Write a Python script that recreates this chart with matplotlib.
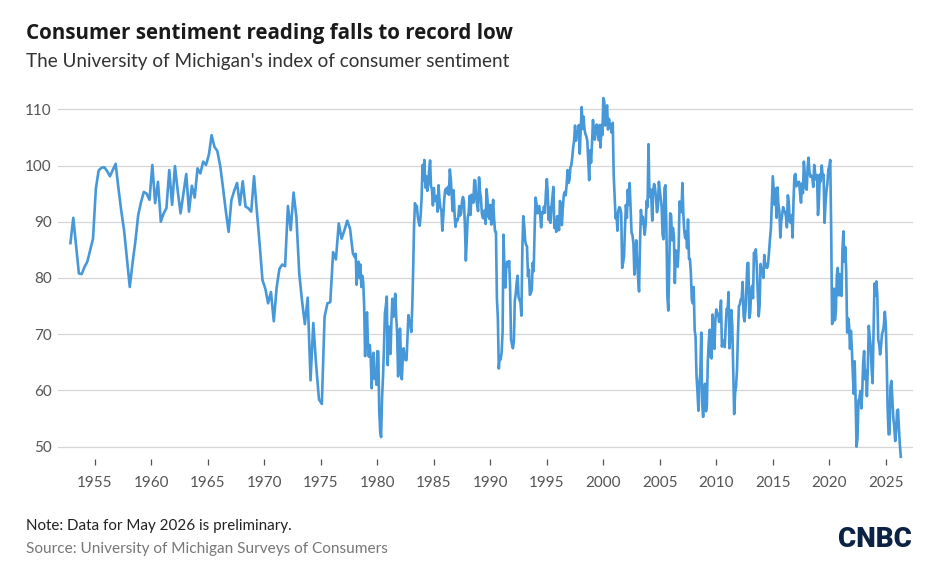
import matplotlib
matplotlib.use("Agg")
import matplotlib.pyplot as plt
import matplotlib.dates as mdates
import pandas as pd

plt.rcParams['font.family'] = ['Lato', 'DejaVu Sans']

# quarterly readings before 1978
early_dates = [
    "1952-11",
    "1953-02", "1953-08", "1953-11",
    "1954-02", "1954-05", "1954-11",
    "1955-02", "1955-05", "1955-08", "1955-11",
    "1956-02", "1956-05", "1956-08", "1956-11",
    "1957-02", "1957-05", "1957-08", "1957-11",
    "1958-02", "1958-05", "1958-08", "1958-11",
    "1959-02", "1959-05", "1959-08", "1959-11",
    "1960-02", "1960-05", "1960-08", "1960-11",
    "1961-02", "1961-05", "1961-08", "1961-11",
    "1962-02", "1962-05", "1962-08", "1962-11",
    "1963-02", "1963-05", "1963-08", "1963-11",
    "1964-02", "1964-05", "1964-08", "1964-11",
    "1965-02", "1965-05", "1965-08", "1965-11",
    "1966-02", "1966-05", "1966-08", "1966-11",
    "1967-02", "1967-05", "1967-08", "1967-11",
    "1968-02", "1968-05", "1968-08", "1968-11",
    "1969-02", "1969-05", "1969-08", "1969-11",
    "1970-02", "1970-05", "1970-08", "1970-11",
    "1971-02", "1971-05", "1971-08", "1971-11",
    "1972-02", "1972-05", "1972-08", "1972-11",
    "1973-02", "1973-05", "1973-08", "1973-11",
    "1974-02", "1974-05", "1974-08", "1974-11",
    "1975-02", "1975-05", "1975-08", "1975-11",
    "1976-02", "1976-05", "1976-08", "1976-11",
    "1977-02", "1977-05", "1977-08", "1977-11",
]
early_values = [
    86.2,
    90.7, 80.8, 80.7,
    82.0, 82.9, 87.0,
    95.9, 99.1, 99.6, 99.7,
    99.0, 98.1, 99.2, 100.3,
    95.9, 92.0, 88.5, 83.5,
    78.4, 82.6, 86.5, 91.2,
    93.5, 95.3, 95.0, 93.9,
    100.1, 93.3, 97.1, 90.0,
    91.5, 92.4, 99.2, 93.0,
    99.9, 95.5, 91.5, 95.0,
    98.5, 91.8, 96.4, 94.3,
    99.5, 98.6, 100.7, 100.1,
    101.9, 105.4, 103.3, 102.6,
    100.0, 96.2, 92.0, 88.2,
    93.9, 95.5, 96.9, 93.0,
    97.2, 92.7, 92.4, 91.8,
    98.1, 92.0, 86.0, 79.6,
    78.1, 75.5, 77.5, 72.3,
    78.3, 81.6, 82.4, 82.1,
    92.8, 88.5, 95.2, 90.8,
    80.8, 76.0, 71.8, 76.5,
    61.8, 72.0, 64.5, 58.4,
    57.6, 73.1, 75.5, 75.7,
    84.6, 83.3, 89.7, 87.0,
    88.5, 90.2, 88.8, 84.4,
]

# monthly readings, Jan 1978 - May 2026
monthly_1978_1989 = [
    83.7, 84.3, 78.8, 81.6, 82.9, 80.0, 82.4, 78.4, 80.4, 79.3, 75.0, 66.1,
    72.1, 73.9, 68.4, 66.0, 68.1, 65.8, 60.4, 64.5, 66.7, 62.1, 63.3, 61.0,
    67.0, 66.9, 56.5, 52.7, 51.7, 58.7, 62.3, 67.3, 73.7, 75.0, 76.7, 64.5,
    71.4, 66.9, 66.5, 72.4, 76.3, 73.1, 74.1, 77.2, 73.1, 70.3, 62.5, 64.3,
    71.0, 66.5, 62.0, 65.5, 67.5, 65.7, 65.4, 65.4, 69.3, 73.4, 72.1, 71.9,
    70.4, 74.6, 80.8, 89.1, 93.3, 92.2, 92.8, 90.9, 89.9, 89.3, 91.1, 94.2,
    100.1, 97.4, 101.0, 96.1, 98.1, 95.5, 96.6, 99.1, 100.9, 96.3, 95.7, 92.9,
    96.0, 93.7, 93.7, 94.6, 91.8, 96.5, 94.0, 92.4, 92.1, 88.4, 90.9, 93.9,
    95.6, 95.9, 95.1, 96.2, 94.8, 99.3, 97.7, 94.9, 91.9, 95.6, 91.4, 89.1,
    90.4, 90.2, 90.8, 92.8, 91.1, 91.5, 93.7, 94.4, 93.6, 89.3, 83.1, 86.8,
    90.8, 91.6, 94.6, 91.2, 94.8, 94.7, 93.4, 97.4, 97.3, 94.1, 93.0, 91.9,
    97.9, 95.4, 94.3, 91.5, 90.7, 90.6, 92.0, 89.6, 95.8, 93.9, 90.9, 90.5,
]
monthly_1990_1999 = [
    93.0, 89.5, 91.3, 93.9, 90.6, 88.3, 88.2, 76.4, 72.8, 63.9, 66.0, 65.5,
    66.8, 70.4, 87.7, 81.8, 78.3, 82.1, 82.9, 82.0, 83.0, 78.3, 69.1, 68.2,
    67.5, 68.8, 76.0, 77.2, 79.2, 80.4, 76.6, 76.1, 75.6, 73.3, 85.3, 91.0,
    89.3, 86.6, 85.9, 85.6, 80.3, 81.5, 77.0, 77.3, 77.9, 82.7, 81.2, 88.2,
    94.3, 93.2, 91.5, 92.6, 92.8, 91.2, 89.0, 91.7, 91.5, 92.7, 91.6, 95.1,
    97.6, 95.1, 90.3, 92.5, 89.8, 92.7, 94.4, 96.2, 88.9, 90.2, 88.2, 91.0,
    89.3, 88.5, 93.7, 92.7, 89.4, 92.4, 94.7, 95.3, 94.7, 96.5, 99.2, 96.9,
    97.4, 99.7, 100.0, 101.4, 103.2, 104.5, 107.1, 104.4, 106.0, 105.6, 107.2, 102.1,
    106.6, 110.4, 106.5, 108.7, 106.5, 105.6, 105.2, 104.4, 100.9, 97.4, 102.7, 100.5,
    103.9, 108.1, 105.7, 104.6, 106.8, 107.3, 106.0, 104.5, 107.2, 103.2, 107.2, 105.4,
]
monthly_2000_2009 = [
    112.0, 111.3, 107.1, 109.2, 110.7, 106.4, 108.3, 107.3, 106.8, 105.8, 107.6, 98.4,
    94.7, 90.6, 91.5, 88.4, 92.0, 92.6, 92.4, 91.5, 81.8, 82.7, 83.9, 88.8,
    93.0, 90.7, 95.7, 93.0, 96.9, 92.4, 88.1, 87.6, 86.1, 80.6, 84.2, 86.7,
    82.4, 79.9, 77.6, 86.0, 92.1, 89.7, 90.9, 89.3, 87.7, 89.6, 93.7, 92.6,
    103.8, 94.4, 95.8, 94.2, 90.2, 95.6, 96.7, 95.9, 94.2, 91.7, 92.8, 97.1,
    95.5, 94.1, 92.6, 87.7, 86.9, 96.0, 96.5, 89.1, 76.9, 74.2, 81.6, 91.5,
    91.2, 86.7, 88.9, 87.4, 79.1, 84.9, 84.7, 82.0, 85.4, 93.6, 92.1, 91.7,
    96.9, 91.3, 88.4, 87.1, 88.3, 85.3, 90.4, 83.4, 83.4, 80.9, 76.1, 75.5,
    78.4, 70.8, 69.5, 62.6, 59.8, 56.4, 61.2, 63.0, 70.3, 57.6, 55.3, 60.1,
    61.2, 56.3, 57.3, 65.1, 68.7, 70.8, 66.0, 65.7, 73.5, 70.6, 67.4, 72.5,
]
monthly_2010_2019 = [
    74.4, 73.6, 73.6, 72.2, 73.6, 76.0, 67.8, 68.9, 68.2, 67.7, 71.6, 74.5,
    74.2, 77.5, 67.5, 69.8, 74.3, 71.5, 63.7, 55.8, 59.5, 60.8, 63.7, 69.9,
    75.0, 75.3, 76.2, 76.4, 79.3, 73.2, 72.3, 74.3, 78.3, 82.6, 82.7, 72.9,
    73.8, 77.6, 78.6, 76.4, 84.5, 84.1, 85.1, 82.1, 77.5, 73.2, 75.1, 82.5,
    81.2, 81.6, 80.0, 84.1, 81.9, 82.5, 81.8, 82.5, 84.6, 86.9, 88.8, 93.6,
    98.1, 95.4, 93.0, 95.9, 90.7, 96.1, 93.1, 91.9, 87.2, 90.0, 91.3, 92.6,
    92.0, 91.7, 91.0, 89.0, 94.7, 93.5, 90.0, 89.8, 91.2, 87.2, 93.8, 98.2,
    98.5, 96.3, 96.9, 97.0, 97.1, 95.0, 93.4, 96.8, 95.1, 100.7, 98.5, 95.9,
    95.7, 99.7, 101.4, 98.8, 98.0, 98.2, 97.9, 96.2, 100.1, 98.6, 97.5, 98.3,
    91.2, 93.8, 98.4, 97.2, 100.0, 98.2, 98.4, 89.8, 93.2, 95.5, 96.8, 99.3,
]
monthly_2020_2026 = [
    99.8, 101.0, 89.1, 71.8, 72.3, 78.1, 72.5, 74.1, 80.4, 81.8, 76.9, 80.7,
    79.0, 76.8, 84.9, 88.3, 82.9, 85.5, 81.2, 70.3, 72.8, 71.7, 67.4, 70.6,
    67.2, 62.8, 59.4, 65.2, 58.4, 50.0, 51.5, 58.2, 58.6, 59.9, 56.8, 59.7,
    64.9, 67.0, 62.0, 63.5, 59.0, 64.2, 71.5, 69.4, 67.9, 63.8, 61.3, 69.7,
    79.0, 76.9, 79.4, 77.2, 69.1, 68.2, 66.4, 67.9, 70.1, 70.5, 71.8, 74.0,
    71.7, 64.7, 57.0, 52.2, 52.2, 60.7, 61.7, 58.2, 55.1, 53.6, 51.0, 52.9,
    56.4, 56.6, 53.3, 50.3, 48.2,
]

monthly_values = (monthly_1978_1989 + monthly_1990_1999 + monthly_2000_2009
                  + monthly_2010_2019 + monthly_2020_2026)
monthly_dates = pd.date_range("1978-01-01", periods=len(monthly_values), freq="MS")

dates = list(pd.to_datetime(early_dates)) + list(monthly_dates)
values = early_values + monthly_values

fig = plt.figure(figsize=(9.42, 5.8), dpi=100)
ax = fig.add_axes([0.0619, 0.2081, 0.9073, 0.6281])

ax.plot(dates, values, color='#4798d9', linewidth=1.9, solid_joinstyle='round', zorder=3)

ax.set_xlim(pd.Timestamp("1951-10-06"), pd.Timestamp("2027-05-30"))
ax.set_ylim(47.76, 112.54)
ax.set_yticks([50, 60, 70, 80, 90, 100, 110])
ax.xaxis.set_major_locator(mdates.YearLocator(5))
ax.xaxis.set_major_formatter(mdates.DateFormatter('%Y'))

ax.grid(axis='y', color='#d6d6d6', linewidth=0.9, zorder=0)
for s in ax.spines.values():
    s.set_visible(False)

ax.tick_params(axis='y', length=0, pad=4.7, labelsize=11, labelcolor='#555555')
ax.tick_params(axis='x', length=4, width=0.9, color='#555555', pad=8,
               labelsize=11, labelcolor='#555555')

fig.text(0.0276, 0.9319, "Consumer sentiment reading falls to record low",
         fontsize=14.8, fontweight='bold', color='#1a1a1a',
         family=['Open Sans', 'DejaVu Sans'])
fig.text(0.0276, 0.8845, "The University of Michigan's index of consumer sentiment",
         fontsize=13.6, color='#333333')
fig.text(0.0276, 0.0862, "Note: Data for May 2026 is preliminary.",
         fontsize=10.9, color='#222222')
fig.text(0.0276, 0.046, "Source: University of Michigan Surveys of Consumers",
         fontsize=11.1, color='#777777')
fig.text(0.968, 0.0569, "CNBC", fontsize=20, fontweight='heavy',
         color='#0b2244', ha='right', family=['Roboto', 'DejaVu Sans'])

fig.savefig("out.png", dpi=100)
